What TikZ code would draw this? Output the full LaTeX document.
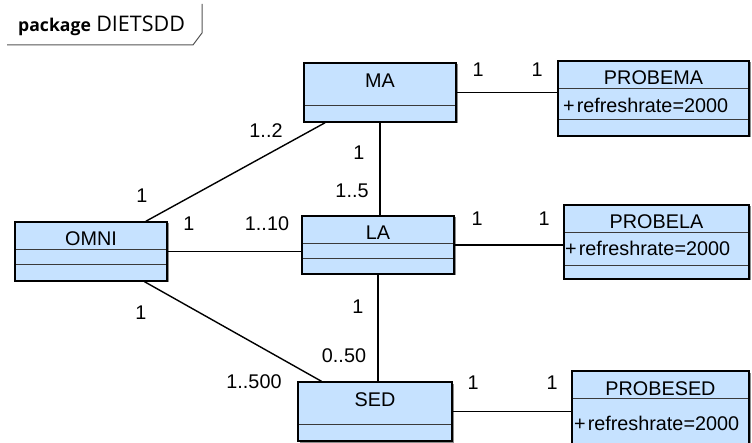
\documentclass[tikz,border=0pt]{standalone}
\usepackage{fontspec}
\setmainfont{Liberation Sans}
\newfontfamily\tabfont{Open Sans}
\usetikzlibrary{calc,shadows}
\definecolor{clsfill}{HTML}{C6E2FF}
\definecolor{seprule}{HTML}{3A3A3A}
\definecolor{tabrule}{HTML}{555555}
% separator line across a class box at height #2
\newcommand{\clsrule}[2]{\draw[sep] ($(#1.west |- 0,#2)+(2,0)$) -- ($(#1.east |- 0,#2)+(-2,0)$);}

\begin{document}
\begin{tikzpicture}[x=1pt,y=-1pt,
  font=\fontsize{19.8}{23}\selectfont,
  cls/.style={draw=black,fill=clsfill,line width=1.4pt,inner sep=0pt,
              drop shadow={shadow xshift=1.5pt,shadow yshift=-1.5pt,fill=black!45,opacity=1}},
  sep/.style={draw=seprule,line width=0.9pt},
  assoc/.style={draw=black,line width=1.4pt},
  cname/.style={inner sep=0pt,anchor=center},
  attr/.style={inner sep=0pt,anchor=base west},
  mult/.style={inner sep=0pt,anchor=center}
]
\useasboundingbox (0,0) rectangle (752,443);

% package tab
\node[inner sep=0pt,anchor=base west] (pkg) at (18,32)
  {\tabfont\fontsize{17.6}{21}\selectfont\bfseries package};
\node[inner sep=0pt,anchor=base west] (pkgname) at ($(pkg.base east)+(5,0)$)
  {\tabfont\fontsize{21.5}{25}\selectfont DIETSDD};
\draw[tabrule,line width=1pt] (7,45) -- (193,45) -- (202,33) -- (202,4);

% classes
\node[cls,minimum width=152pt,minimum height=59pt] (ma) at (380,92.5) {};
\node[cls,minimum width=191pt,minimum height=75pt] (pma) at (653.5,98.5) {};
\node[cls,minimum width=152pt,minimum height=59pt] (om) at (91,251.5) {};
\node[cls,minimum width=152pt,minimum height=58pt] (la) at (378,245) {};
\node[cls,minimum width=185pt,minimum height=74pt] (pla) at (656.5,242) {};
\node[cls,minimum width=154pt,minimum height=59pt] (sed) at (375,411.5) {};
\node[cls,minimum width=177pt,minimum height=79pt] (psed) at (660.5,410.5) {};

\node[cname] (ma-n) at (380,80.5) {MA};
\clsrule{ma}{105}
\node[cname] (pma-n) at (653.5,78) {PROBEMA};
\clsrule{pma}{88}
\clsrule{pma}{119}
\node[attr] (pma-a) at (563,113) {+\kern2pt refreshrate=2000};
\node[cname] (om-n) at (91,239) {OMNI};
\clsrule{om}{249}
\clsrule{om}{264}
\node[cname] (la-n) at (378,232.5) {LA};
\clsrule{la}{243}
\clsrule{la}{258}
\node[cname] (pla-n) at (656.5,221.5) {PROBELA};
\clsrule{pla}{232}
\clsrule{pla}{265}
\node[attr] (pla-a) at (565,255.5) {+\kern2pt refreshrate=2000};
\node[cname] (sed-n) at (375,400) {SED};
\clsrule{sed}{424}
\node[cname] (psed-n) at (660.5,389) {PROBESED};
\clsrule{psed}{398}
\node[attr] (psed-a) at (574,430.5) {+\kern2pt refreshrate=2000};

% associations
\draw[assoc] (om) -- (ma);
\draw[assoc] (om) -- (sed);
\draw[assoc] (om) -- (om -| la.west);
\draw[assoc] (ma) -- (ma |- la.north);
\draw[assoc] (la) -- (la |- sed.north);
\draw[assoc] (ma) -- (ma -| pma.west);
\draw[assoc] (la) -- (la -| pla.west);
\draw[assoc] (sed) -- (sed -| psed.west);

% multiplicities
\node[mult] (m1) at (478,70) {1};
\node[mult] (m2) at (537,70) {1};
\node[mult] (m3) at (266,131) {1..2};
\node[mult] (m4) at (142,196) {1};
\node[mult] (m5) at (359,153) {1};
\node[mult] (m6) at (352,191) {1..5};
\node[mult] (m7) at (189,224) {1};
\node[mult] (m8) at (267,224) {1..10};
\node[mult] (m9) at (477,219) {1};
\node[mult] (m10) at (544,219) {1};
\node[mult] (m11) at (141,313) {1};
\node[mult] (m12) at (358,307) {1};
\node[mult] (m13) at (344,356) {0..50};
\node[mult] (m14) at (254,382) {1..500};
\node[mult] (m15) at (473,383) {1};
\node[mult] (m16) at (552,383) {1};
\end{tikzpicture}
\end{document}
